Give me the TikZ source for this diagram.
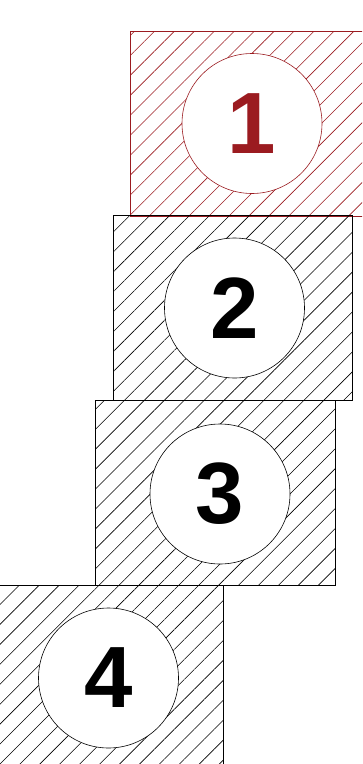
\documentclass[tikz,border=0pt]{standalone}
\usepackage{fontspec}
\setmainfont{Liberation Sans}
\usetikzlibrary{patterns.meta}
\definecolor{darkred}{HTML}{9B1B20}
\tikzset{
  hatchbox/.style={draw, line width=0.7pt, minimum width=239.5pt, minimum height=185pt, inner sep=0pt,
    pattern={Lines[angle=45,distance=14.1pt,line width=0.6pt]}},
  numcircle/.style={circle, draw, fill=white, line width=0.6pt, minimum size=140pt, inner sep=0pt,
    font=\fontsize{87}{87}\selectfont\bfseries}
}
\begin{document}
\begin{tikzpicture}[x=1pt,y=-1pt]
\useasboundingbox (0,0) rectangle (362,764);
\clip (0,0) rectangle (362,764);
\node[hatchbox, draw=darkred, pattern color=darkred] (b1) at (249.75,123.5) {};
\node[hatchbox, pattern color=black] (b2) at (232.75,308) {};
\node[hatchbox, pattern color=black] (b3) at (215.25,493) {};
\node[hatchbox, pattern color=black] (b4) at (103.25,678) {};
\node[numcircle, draw=darkred, text=darkred] (c1) at (252,123.5) {1};
\node[numcircle] (c2) at (234.5,308) {2};
\node[numcircle] (c3) at (220,494) {3};
\node[numcircle] (c4) at (108.5,678) {4};
\end{tikzpicture}
\end{document}
